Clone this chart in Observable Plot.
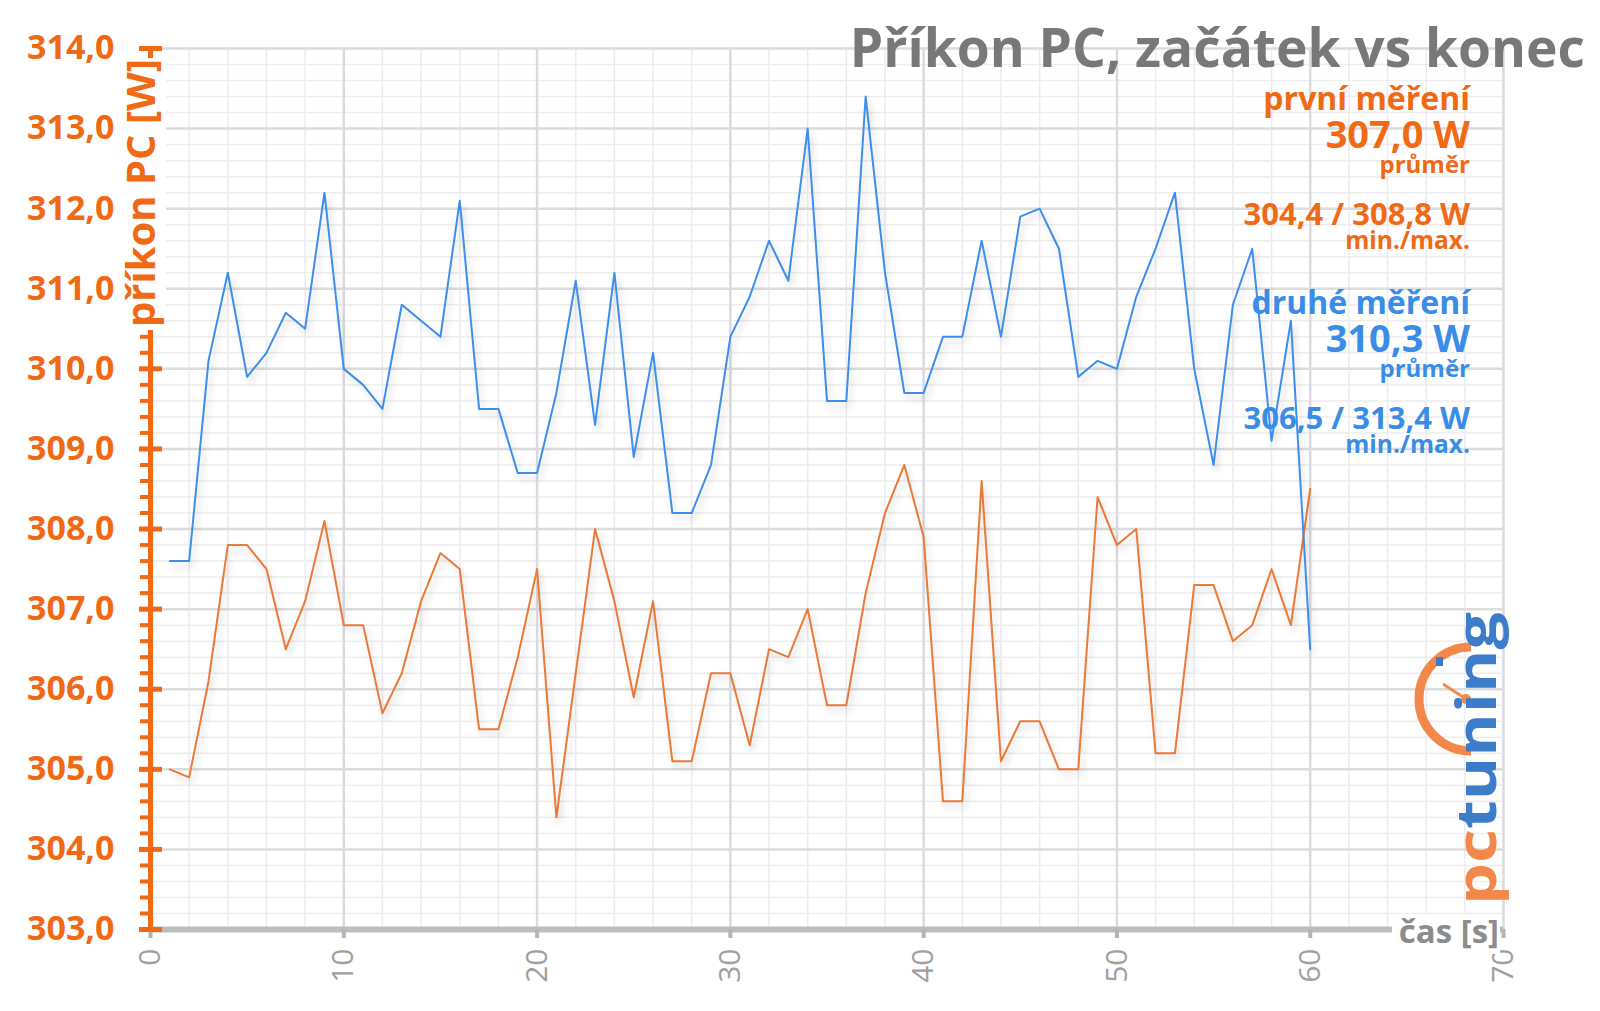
<!DOCTYPE html>
<html><head><meta charset="utf-8">
<script src="https://cdn.jsdelivr.net/npm/d3@7"></script>
<script src="https://cdn.jsdelivr.net/npm/@observablehq/plot@0.6"></script>
<style>
body{margin:0;background:#fff;}
#wrap{position:relative;width:1600px;height:1011px;overflow:hidden;font-family:"Open Sans",sans-serif;}
#wrap svg{position:absolute;left:0;top:0;}
g[aria-label="line"] path{filter:drop-shadow(3px 5px 3px rgba(0,0,0,0.16));}
</style></head><body><div id="wrap"></div>
<script>
// ---- data ----
const seconds = [1,2,3,4,5,6,7,8,9,10,11,12,13,14,15,16,17,18,19,20,21,22,23,24,25,26,27,28,29,30,
  31,32,33,34,35,36,37,38,39,40,41,42,43,44,45,46,47,48,49,50,51,52,53,54,55,56,57,58,59,60];
const prvni = [305.0,304.9,306.1,307.8,307.8,307.5,306.5,307.1,308.1,306.8,
  306.8,305.7,306.2,307.1,307.7,307.5,305.5,305.5,306.4,307.5,
  304.4,306.2,308.0,307.1,305.9,307.1,305.1,305.1,306.2,306.2,
  305.3,306.5,306.4,307.0,305.8,305.8,307.2,308.2,308.8,307.9,
  304.6,304.6,308.6,305.1,305.6,305.6,305.0,305.0,308.4,307.8,
  308.0,305.2,305.2,307.3,307.3,306.6,306.8,307.5,306.8,308.5];
const druhe = [307.6,307.6,310.1,311.2,309.9,310.2,310.7,310.5,312.2,310.0,
  309.8,309.5,310.8,310.6,310.4,312.1,309.5,309.5,308.7,308.7,
  309.7,311.1,309.3,311.2,308.9,310.2,308.2,308.2,308.8,310.4,
  310.9,311.6,311.1,313.0,309.6,309.6,313.4,311.2,309.7,309.7,
  310.4,310.4,311.6,310.4,311.9,312.0,311.5,309.9,310.1,310.0,
  310.9,311.5,312.2,310.0,308.8,310.8,311.5,309.1,310.6,306.5];
const seriesNames = ["první měření","druhé měření"];
const seriesMeans = ["307,0 W","310,3 W"];
const seriesMinMax = ["304,4 / 308,8 W","306,5 / 313,4 W"];
const meanLabel = "průměr";
const minMaxLabel = "min./max.";
const title = "Příkon PC, začátek vs konec";
const yLabel = "příkon PC [W]";
const xLabel = "čas [s]";
const xTicks = [0,10,20,30,40,50,60,70];
const yTicks = [303,304,305,306,307,308,309,310,311,312,313,314];
const xMinor = d3.range(0,70.001,2);
const yMinor = d3.range(303,314.001,0.2).map(v=>+v.toFixed(1));

const ORANGE = "#f06a16", ORANGE_LINE = "#ea7a35";
const BLUE = "#3a8de6", BLUE_LINE = "#3d8fee";
const GRAY_T = "#787878";

const d1 = seconds.map((t,i)=>({t, v: prvni[i]}));
const d2 = seconds.map((t,i)=>({t, v: druhe[i]}));
const fmt = d => d.toFixed(1).replace(".", ",");

const chart = Plot.plot({
  width: 1600, height: 1011,
  marginLeft: 150, marginRight: 97, marginTop: 48, marginBottom: 82,
  style: {background: "transparent", overflow: "visible", fontFamily: "'Open Sans', sans-serif"},
  x: {domain: [0,70]},
  y: {domain: [303,314]},
  marks: [
    Plot.gridX(xMinor, {stroke: "#ececf0", strokeOpacity: 1, strokeWidth: 1.5}),
    Plot.gridY(yMinor, {stroke: "#ededed", strokeOpacity: 1, strokeWidth: 1.5}),
    Plot.gridX(xTicks, {stroke: "#d9dbe1", strokeOpacity: 1, strokeWidth: 2.5}),
    Plot.gridY(yTicks, {stroke: "#dcdcdc", strokeOpacity: 1, strokeWidth: 2.5}),
    Plot.line(d1, {x: "t", y: "v", stroke: ORANGE_LINE, strokeWidth: 2}),
    Plot.line(d2, {x: "t", y: "v", stroke: BLUE_LINE, strokeWidth: 2}),
    Plot.ruleY([303], {stroke: "#bdbdbd", strokeWidth: 6}),
    Plot.axisX({ticks: xTicks, tickSize: 9, tickPadding: 10, tickRotate: -90, stroke: "#b5b5b5", strokeWidth: 4,
      fill: "#a0a0a0", fontSize: 30, label: null, tickFormat: d => String(d)}),
    Plot.ruleX([0], {stroke: ORANGE, strokeWidth: 5}),
    Plot.axisY({ticks: yMinor, tickSize: 10, stroke: ORANGE, strokeWidth: 4, tickFormat: () => "", label: null}),
    Plot.axisY({ticks: yTicks, tickSize: 23, dx: 12, stroke: ORANGE, strokeWidth: 5, tickFormat: () => "", label: null}),
    Plot.axisY({ticks: yTicks, tickSize: 0, tickPadding: 36, tickFormat: fmt, fill: ORANGE, fontSize: 34,
      fontWeight: 700, label: null})
  ]
});
document.getElementById("wrap").appendChild(chart);

// ---- overlay texts ----
const ov = d3.select("#wrap").append("svg").attr("width",1600).attr("height",1011)
  .style("font-family","'Open Sans', sans-serif").style("font-weight",700);
function txt(x,y,s,size,fill,anchor="end"){
  return ov.append("text").attr("x",x).attr("y",y).attr("font-size",size).attr("fill",fill)
    .attr("text-anchor",anchor).text(s);
}
txt(1585, 67, title, 53.3, GRAY_T);
const RX = 1470;
const blocks = [{c: ORANGE, y0: 110}, {c: BLUE, y0: 314}];
blocks.forEach((b,i)=>{
  txt(RX, b.y0, seriesNames[i], 32, b.c);
  txt(RX, b.y0+38, seriesMeans[i], 38, b.c);
  txt(RX, b.y0+63, meanLabel, 24, b.c);
  txt(RX, b.y0+115, seriesMinMax[i], 31, b.c);
  txt(RX, b.y0+139, minMaxLabel, 24.5, b.c);
});

// y label with white backing
ov.append("rect").attr("x",120).attr("y",58).attr("width",46).attr("height",272).attr("fill","#fff");
ov.append("text").attr("transform","translate(155,193) rotate(-90)").attr("text-anchor","middle")
  .attr("font-size",40).attr("fill",ORANGE).text(yLabel);

// x label with white backing
ov.append("rect").attr("x",1392).attr("y",914).attr("width",108).attr("height",40).attr("fill","#fff");
txt(1499, 943, xLabel, 33, "#8c8c8c");

// logo
const LO = "#f4884a", LB = "#3d7cc9";
ov.append("path").attr("d","M1471,647 A52,52 0 0,0 1471,751").attr("fill","none").attr("stroke",LO).attr("stroke-width",9);
ov.append("line").attr("x1",1443).attr("y1",684).attr("x2",1466).attr("y2",699).attr("stroke",LO).attr("stroke-width",3);
ov.append("circle").attr("cx",1466).attr("cy",699).attr("r",5).attr("fill",LO);
ov.append("rect").attr("x",1436).attr("y",657).attr("width",7).attr("height",9).attr("fill",LB);
const lg = ov.append("text").attr("transform","translate(1496,905) rotate(-90)").attr("font-size",56)
  .attr("textLength",293).attr("lengthAdjust","spacingAndGlyphs");
lg.append("tspan").attr("fill",LO).text("pc");
lg.append("tspan").attr("fill",LB).text("tuning");
</script></body></html>
